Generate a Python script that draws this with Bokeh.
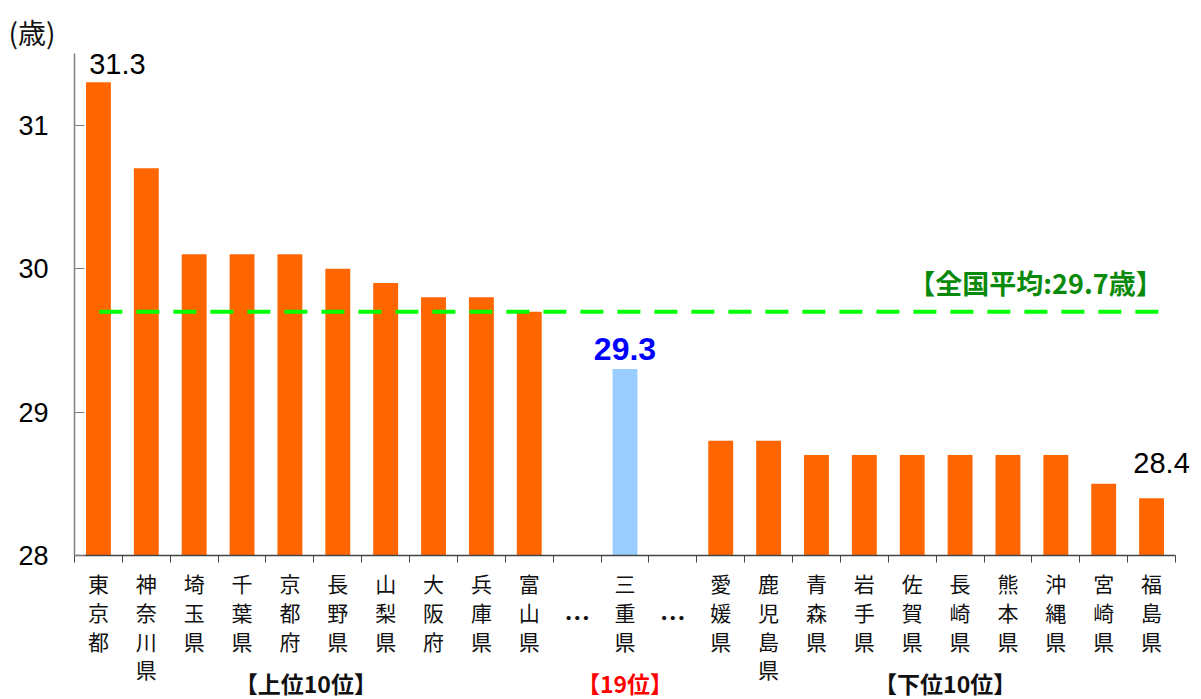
from bokeh.plotting import figure
from bokeh.models import Label, FixedTicker, Range1d, LinearAxis
from bokeh.embed import file_html
from bokeh.resources import INLINE

# ---- data ----
top_names = ["東京都", "神奈川県", "埼玉県", "千葉県", "京都府", "長野県", "山梨県", "大阪府", "兵庫県", "富山県"]
top_values = [31.3, 30.7, 30.1, 30.1, 30.1, 30.0, 29.9, 29.8, 29.8, 29.7]
mie_name = "三重県"
mie_value = 29.3
bottom_names = ["愛媛県", "鹿児島県", "青森県", "岩手県", "佐賀県", "長崎県", "熊本県", "沖縄県", "宮崎県", "福島県"]
bottom_values = [28.8, 28.8, 28.7, 28.7, 28.7, 28.7, 28.7, 28.7, 28.5, 28.4]
national_avg = 29.7
y_ticks = [28, 29, 30, 31]
y_unit = "(歳)"
group_labels = ["【上位10位】", "【19位】", "【下位10位】"]
avg_label = "【全国平均:29.7歳】"
gap_mark = "…"

# ---- layout (pixel geometry of the canvas) ----
JP = "Noto Sans CJK JP"
NUM = "Liberation Sans"
W, H = 1200, 698
Y0, Y1 = 28, 31.5
n_slots = len(top_names) + 3 + len(bottom_names)
AX_L, AX_R = 74, 1175          # x pixels of slot range
AX_B, AX_T = 555, 53           # y pixels of 28 and 31.5
xpu = (AX_R - AX_L) / n_slots
ypu = (AX_B - AX_T) / (Y1 - Y0)
x_start = -AX_L / xpu
x_end = (W - AX_L) / xpu
y_end = Y0 + AX_B / ypu
y_start = Y0 - (H - AX_B) / ypu


def ypx(py):
    return Y0 - (py - AX_B) / ypu


def xpx(px):
    return (px - AX_L) / xpu


p = figure(width=W, height=H, x_range=Range1d(x_start, x_end), y_range=Range1d(y_start, y_end),
           output_backend="svg", toolbar_location=None,
           x_axis_location=None, y_axis_location=None,
           min_border=0, min_border_left=0, min_border_right=0, min_border_top=0, min_border_bottom=0)
p.outline_line_color = None
p.xgrid.visible = False
p.ygrid.visible = False
p.background_fill_color = "white"

# axes fixed at the data origin
xa = LinearAxis(fixed_location=Y0, bounds=(0, n_slots))
xa.ticker = FixedTicker(ticks=list(range(n_slots + 1)))
xa.major_label_overrides = {i: "" for i in range(n_slots + 1)}
xa.major_label_text_font_size = "1px"
xa.major_tick_in = 0
xa.major_tick_out = 7
xa.minor_tick_line_color = None
xa.axis_line_color = "#444444"
xa.major_tick_line_color = "#444444"
xa.axis_line_width = 1.5
p.add_layout(xa, "below")

ya = LinearAxis(fixed_location=0, bounds=(Y0, Y1))
ya.ticker = FixedTicker(ticks=y_ticks)
ya.major_tick_in = 10
ya.major_tick_out = 0
ya.minor_tick_line_color = None
ya.axis_line_color = "#808080"
ya.major_tick_line_color = "#808080"
ya.axis_line_width = 1.5
ya.major_label_text_font = NUM
ya.major_label_text_font_size = "27px"
ya.major_label_text_color = "black"
ya.major_label_standoff = 26
p.add_layout(ya, "left")

# slots
top_x = [i + 0.5 for i in range(len(top_names))]
mie_x = len(top_names) + 1 + 0.5
bot_x = [len(top_names) + 3 + i + 0.5 for i in range(len(bottom_names))]

p.vbar(x=top_x, top=top_values, bottom=Y0, width=0.52, fill_color="#FF6600", line_color=None)
p.vbar(x=[mie_x], top=[mie_value], bottom=Y0, width=0.52, fill_color="#99CCFF", line_color=None)
p.vbar(x=bot_x, top=bottom_values, bottom=Y0, width=0.52, fill_color="#FF6600", line_color=None)

# average line
p.line(x=[0.52, n_slots - 0.33], y=[national_avg, national_avg], line_color="#00FF00",
       line_width=4, line_dash="23 14")
p.add_layout(Label(x=xpx(1035), y=ypx(282), text=avg_label, text_align="center",
                   text_baseline="middle", text_font=JP, text_font_size="27px",
                   text_font_style="bold", text_color="#0A8A0A"))

# value labels
p.add_layout(Label(x=top_x[0], y=top_values[0], x_offset=19, y_offset=8, text=f"{top_values[0]}",
                   text_align="center", text_baseline="bottom", text_font=NUM,
                   text_font_size="29px", text_color="black"))
p.add_layout(Label(x=bot_x[-1], y=bottom_values[-1], x_offset=10, y_offset=25, text=f"{bottom_values[-1]}",
                   text_align="center", text_baseline="bottom", text_font=NUM,
                   text_font_size="29px", text_color="black"))
p.add_layout(Label(x=mie_x, y=mie_value, y_offset=9, text=f"{mie_value}",
                   text_align="center", text_baseline="bottom", text_font=NUM,
                   text_font_size="32px", text_font_style="bold", text_color="#0000FF"))

# category labels, one character per row
row_py = [582, 611, 640, 668]


def vlabel(x, name):
    for k, ch in enumerate(name):
        p.add_layout(Label(x=x, y=ypx(row_py[k]), text=ch, text_align="center",
                           text_baseline="middle", text_font=JP, text_font_size="21px",
                           text_color="#111111"))


for x, n in zip(top_x, top_names):
    vlabel(x, n)
vlabel(mie_x, mie_name)
for x, n in zip(bot_x, bottom_names):
    vlabel(x, n)

for gx in [len(top_names) + 0.5, len(top_names) + 2 + 0.5]:
    p.add_layout(Label(x=gx, y=ypx(616), text=gap_mark, text_align="center",
                       text_baseline="middle", text_font=JP, text_font_size="26px",
                       text_font_style="bold", text_color="#111111"))

# group labels
group_x = [len(top_names) / 2, mie_x, len(top_names) + 3 + len(bottom_names) / 2]
group_dx = [-8, 0, 9]
group_col = ["#111111", "#FF0000", "#111111"]
for gx, dx, t, c in zip(group_x, group_dx, group_labels, group_col):
    p.add_layout(Label(x=gx, x_offset=dx, y=ypx(682), text=t, text_align="center",
                       text_baseline="middle", text_font=JP, text_font_size="23px",
                       text_font_style="bold", text_color=c))

# unit label
p.add_layout(Label(x=xpx(8), y=ypx(31), text=y_unit, text_align="left", text_baseline="middle",
                   text_font=JP, text_font_size="28px", text_color="#111111"))

open("out.html", "w").write(file_html(p, INLINE))
